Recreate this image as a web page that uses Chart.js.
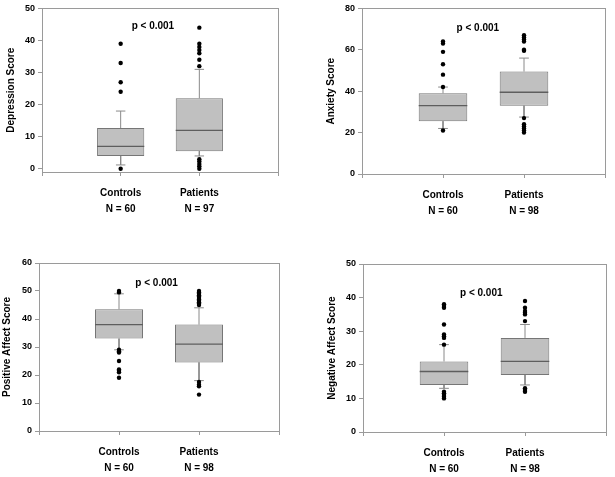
<!DOCTYPE html>
<html>
<head>
<meta charset="utf-8">
<script src="https://cdn.jsdelivr.net/npm/chart.js@4.4.1/dist/chart.umd.min.js"></script>
<style>
    body { margin: 0; background: #fff; }
    canvas { position: absolute; }
</style>
</head>
<body>
<canvas id="depression" width="300" height="230" style="left:0;top:0"></canvas>
<canvas id="anxiety" width="294" height="230" style="left:321px;top:0"></canvas>
<canvas id="positive" width="300" height="237" style="left:0;top:240px"></canvas>
<canvas id="negative" width="294" height="237" style="left:321px;top:240px"></canvas>
<script>
var groups = ['Controls', 'Patients'];

// Depression
var depressionN = ['N = 60', 'N = 97'];
var depressionQ1 = [4, 5.5];
var depressionMedian = [7, 12];
var depressionQ3 = [12.7, 22];
var depressionLow = [1.2, 4];
var depressionHigh = [18, 31];
var depressionOutliers = [
    [39, 33, 27, 24, 0],
    [44, 39, 38, 37, 36, 34, 32, 3, 2.3, 1.5, 0.8, 0]
];
var depressionTicks = [0, 10, 20, 30, 40, 50];

// Anxiety
var anxietyN = ['N = 60', 'N = 98'];
var anxietyQ1 = [25.5, 33];
var anxietyMedian = [33, 39.5];
var anxietyQ3 = [39, 49.5];
var anxietyLow = [22, 27.5];
var anxietyHigh = [42, 56];
var anxietyOutliers = [
    [64, 63, 59, 53, 48, 42, 21],
    [67, 66, 65, 64, 60, 59.5, 27, 24, 23, 22, 21, 20]
];
var anxietyTicks = [0, 20, 40, 60, 80];

// Positive affect
var positiveN = ['N = 60', 'N = 98'];
var positiveQ1 = [33, 24.5];
var positiveMedian = [38, 31];
var positiveQ3 = [43.5, 38];
var positiveLow = [29, 18];
var positiveHigh = [49, 44];
var positiveOutliers = [
    [50, 49.5, 29, 28.5, 28, 25, 22, 21.5, 21, 19],
    [50, 49.5, 49, 48.5, 48, 47.5, 47, 46.5, 46, 45.5, 45, 17.5, 16.5, 16, 13]
];
var positiveTicks = [0, 10, 20, 30, 40, 50, 60];

// Negative affect
var negativeN = ['N = 60', 'N = 98'];
var negativeQ1 = [14, 17];
var negativeMedian = [18, 21];
var negativeQ3 = [21, 28];
var negativeLow = [13, 14];
var negativeHigh = [26, 32];
var negativeOutliers = [
    [38, 37.5, 37, 32, 29, 28.5, 28, 26, 12, 11.5, 11, 10.5, 10],
    [39, 37, 36, 35.5, 35, 33, 13, 12.5, 12]
];
var negativeTicks = [0, 10, 20, 30, 40, 50];

var FONT = 'Arial, "Liberation Sans", sans-serif';
var BOX_HALF = 0.3;
var CAP_HALF = 0.06;
var FRAME = '#9a9a9a';

function boxData(q1, q3) {
    return q1.map(function (v, i) { return {x: i + 1, y: [v, q3[i]]}; });
}

function medianData(med) {
    var pts = [];
    med.forEach(function (m, i) {
        pts.push({x: i + 1 - BOX_HALF, y: m}, {x: i + 1 + BOX_HALF, y: m}, {x: i + 1, y: null});
    });
    return pts;
}

function whiskerData(q1, q3, lo, hi) {
    var pts = [];
    for (var i = 0; i < q1.length; i++) {
        var x = i + 1;
        pts.push({x: x, y: q3[i]}, {x: x, y: hi[i]}, {x: x, y: null},
                 {x: x - CAP_HALF, y: hi[i]}, {x: x + CAP_HALF, y: hi[i]}, {x: x, y: null},
                 {x: x, y: q1[i]}, {x: x, y: lo[i]}, {x: x, y: null},
                 {x: x - CAP_HALF, y: lo[i]}, {x: x + CAP_HALF, y: lo[i]}, {x: x, y: null});
    }
    return pts;
}

function outlierData(outliers) {
    var pts = [];
    outliers.forEach(function (list, i) {
        list.forEach(function (v) { pts.push({x: i + 1, y: v}); });
    });
    return pts;
}

var pValueLabel = {
    id: 'pValueLabel',
    afterDatasetsDraw: function (chart, args, opts) {
        var ctx = chart.ctx;
        ctx.save();
        ctx.font = 'bold 10px ' + FONT;
        ctx.fillStyle = '#000';
        ctx.textAlign = 'center';
        ctx.textBaseline = 'middle';
        ctx.fillText(opts.text, chart.scales.x.getPixelForValue(opts.x), chart.scales.y.getPixelForValue(opts.y));
        ctx.restore();
    }
};

function makePanel(id, p) {
    var canvas = document.getElementById(id);
    var cw = canvas.width, ch = canvas.height;
    var leftW = p.area[0], top = p.area[1], right = cw - p.area[2], bottomH = ch - p.area[3];

    return new Chart(canvas, {
        type: 'bar',
        data: {
            datasets: [
                {
                    type: 'line', data: whiskerData(p.q1, p.q3, p.low, p.high),
                    borderColor: '#8a8a8a', borderWidth: 1, pointRadius: 0, order: 3
                },
                {
                    type: 'bar', data: boxData(p.q1, p.q3),
                    backgroundColor: '#c0c0c0', borderColor: '#767676', borderWidth: 1,
                    borderSkipped: false, categoryPercentage: 1, barPercentage: 2 * BOX_HALF, order: 2
                },
                {
                    type: 'line', data: medianData(p.median),
                    borderColor: '#5e5e5e', borderWidth: 1.3, pointRadius: 0, order: 1
                },
                {
                    type: 'line', data: outlierData(p.outliers), showLine: false,
                    pointRadius: 2.2, pointBackgroundColor: '#000', pointBorderWidth: 0, order: 0
                }
            ]
        },
        options: {
            responsive: false,
            animation: false,
            layout: {padding: {top: top, right: right, left: 0, bottom: 0}},
            plugins: {
                legend: {display: false},
                tooltip: {enabled: false},
                pValueLabel: {text: 'p < 0.001', x: p.pX, y: p.pY}
            },
            scales: {
                x: {
                    type: 'linear', min: 0, max: 3, offset: false,
                    grid: {offset: false, drawOnChartArea: false, color: FRAME, tickLength: 4},
                    border: {color: FRAME},
                    ticks: {
                        stepSize: 1, padding: 9, color: '#000', maxRotation: 0,
                        font: {family: FONT, size: 10, weight: 'bold', lineHeight: 1.6},
                        callback: function (v) {
                            return (v === 1 || v === 2) ? [groups[v - 1], p.n[v - 1]] : '';
                        }
                    },
                    afterFit: function (s) { s.height = bottomH; }
                },
                y: {
                    min: p.yMin, max: p.yMax,
                    grid: {drawOnChartArea: false, color: FRAME, tickLength: 4},
                    border: {color: FRAME},
                    afterBuildTicks: function (s) {
                        s.ticks = p.ticks.map(function (v) { return {value: v}; });
                    },
                    ticks: {
                        padding: 3, color: '#000',
                        font: {family: FONT, size: 9, weight: 'bold'}
                    },
                    title: {
                        display: true, text: p.title, color: '#000',
                        padding: {top: p.titlePad, bottom: 0},
                        font: {family: FONT, size: 10, weight: 'bold', lineHeight: 1.2}
                    },
                    afterFit: function (s) { s.width = leftW; }
                },
                xTop: {
                    type: 'linear', position: 'top', min: 0, max: 3,
                    grid: {drawOnChartArea: false, drawTicks: false},
                    border: {color: FRAME},
                    ticks: {display: false},
                    afterFit: function (s) { s.height = 0; }
                },
                yRight: {
                    type: 'linear', position: 'right', min: 0, max: 1,
                    grid: {drawOnChartArea: false, drawTicks: false},
                    border: {color: FRAME},
                    ticks: {display: false},
                    afterFit: function (s) { s.width = 0; }
                }
            }
        },
        plugins: [pValueLabel]
    });
}

makePanel('depression', {
    title: 'Depression Score', n: depressionN, q1: depressionQ1, median: depressionMedian,
    q3: depressionQ3, low: depressionLow, high: depressionHigh, outliers: depressionOutliers,
    ticks: depressionTicks, yMin: -1, yMax: 50, pX: 1.41, pY: 44.5,
    area: [42, 7, 278, 172], titlePad: 5
});

makePanel('anxiety', {
    title: 'Anxiety Score', n: anxietyN, q1: anxietyQ1, median: anxietyMedian,
    q3: anxietyQ3, low: anxietyLow, high: anxietyHigh, outliers: anxietyOutliers,
    ticks: anxietyTicks, yMin: 0, yMax: 80, pX: 1.43, pY: 70.4,
    area: [41, 7, 284, 174], titlePad: 4.5
});

makePanel('positive', {
    title: 'Positive Affect Score', n: positiveN, q1: positiveQ1, median: positiveMedian,
    q3: positiveQ3, low: positiveLow, high: positiveHigh, outliers: positiveOutliers,
    ticks: positiveTicks, yMin: 0, yMax: 60, pX: 1.47, pY: 52.6,
    area: [39, 23, 279, 191], titlePad: 1
});

makePanel('negative', {
    title: 'Negative Affect Score', n: negativeN, q1: negativeQ1, median: negativeMedian,
    q3: negativeQ3, low: negativeLow, high: negativeHigh, outliers: negativeOutliers,
    ticks: negativeTicks, yMin: 0, yMax: 50, pX: 1.46, pY: 41.2,
    area: [42, 24, 289, 192], titlePad: 5
});
</script>
</body>
</html>
